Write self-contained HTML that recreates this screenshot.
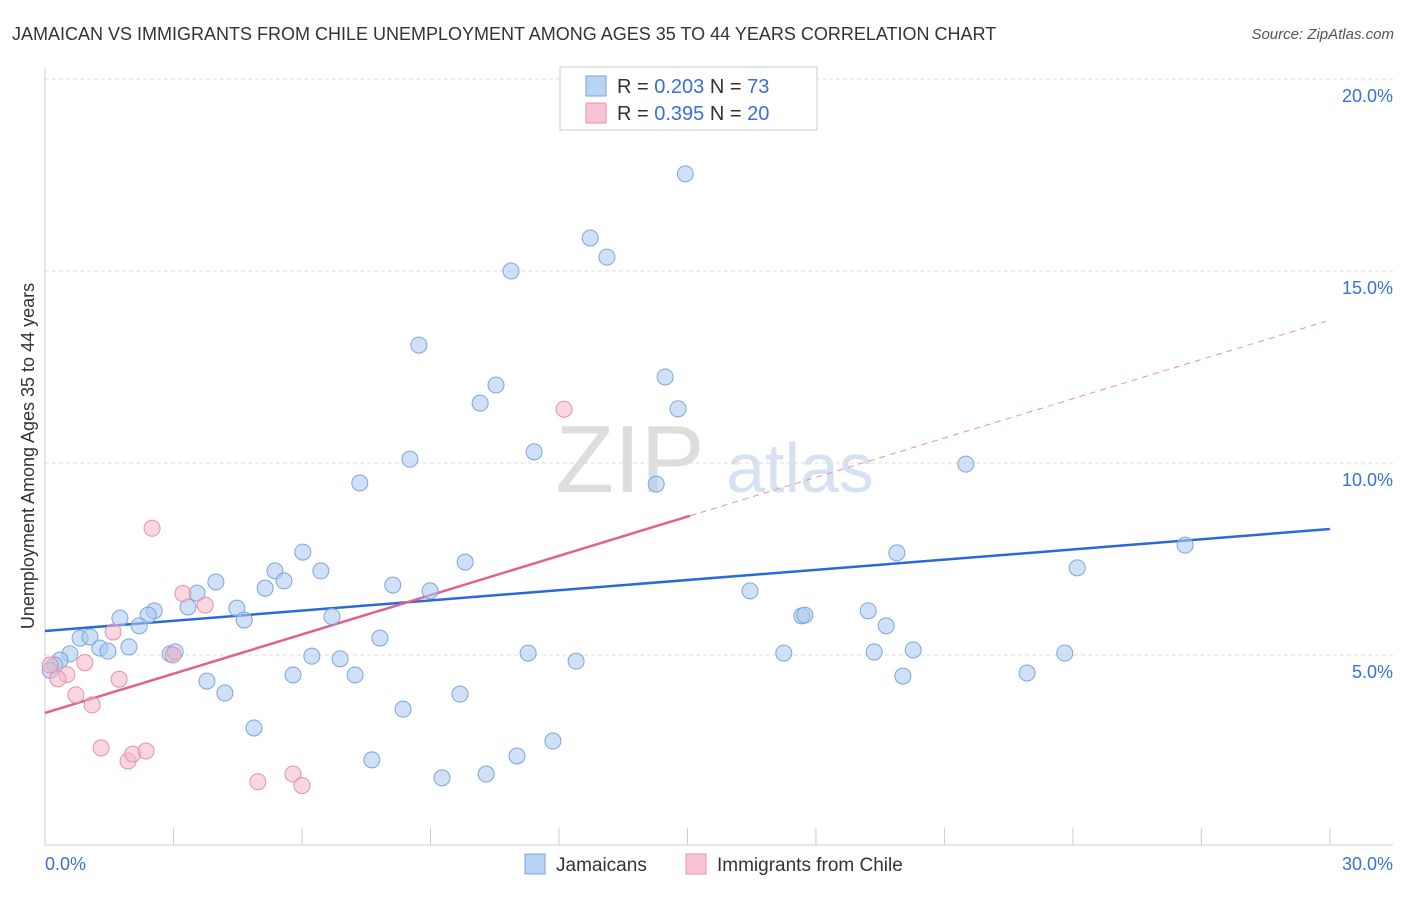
<!DOCTYPE html>
<html><head><meta charset="utf-8"><style>
body{margin:0;background:#fff;font-family:"Liberation Sans",sans-serif;}
svg text{font-family:"Liberation Sans",sans-serif;}
</style></head><body>
<svg id="chart" width="1406" height="892">
<text x="12" y="40" font-size="18" fill="#333">JAMAICAN VS IMMIGRANTS FROM CHILE UNEMPLOYMENT AMONG AGES 35 TO 44 YEARS CORRELATION CHART</text>
<text x="1394" y="39" font-size="15" fill="#555" text-anchor="end" font-style="italic">Source: ZipAtlas.com</text>
<text x="630" y="492" font-size="96" fill="#ddd" font-family="Liberation Serif" text-anchor="middle">ZIP</text>
<text x="800" y="492" font-size="70" fill="#d6e2f2" text-anchor="middle">atlas</text>
<g id="grid"></g><g id="axes"></g><g id="lines"></g><g id="points"></g>
<text transform="translate(34,456) rotate(-90)" font-size="18" fill="#333" text-anchor="middle">Unemployment Among Ages 35 to 44 years</text>
<text x="45" y="870" font-size="18" fill="#3a6fd8">0.0%</text>
<text x="1393" y="870" font-size="18" fill="#3a6fd8" text-anchor="end">30.0%</text>
<g>
<rect x="560" y="67" width="257" height="63" fill="#fff" stroke="#ccc"/>
<rect x="586" y="76" width="20" height="20" fill="#b9d3f5" stroke="#7aa5e0"/>
<rect x="586" y="103" width="20" height="20" fill="#f9c5d4" stroke="#e890aa"/>
<text x="617" y="93" font-size="20" fill="#333">R = <tspan fill="#3a6fd8">0.203</tspan>   N = <tspan fill="#3a6fd8">73</tspan></text>
<text x="617" y="120" font-size="20" fill="#333">R = <tspan fill="#3a6fd8">0.395</tspan>   N = <tspan fill="#3a6fd8">20</tspan></text>
</g>
<g><rect x="525" y="854" width="20" height="20" fill="#b9d3f5" stroke="#7aa5e0"/><text x="556" y="871" font-size="19" fill="#333">Jamaicans</text></g>
<g><rect x="686" y="854" width="20" height="20" fill="#f9c5d4" stroke="#e890aa"/><text x="717" y="871" font-size="19" fill="#333">Immigrants from Chile</text></g>
</svg>
<script>
const yTicks=[5,10,15,20];
const yTickLabels=["5.0%","10.0%","15.0%","20.0%"];
const xTicks=[0,3,6,9,12,15,18,21,24,27,30];
const blueX=[14.95,13.12,10.88,12.73,8.73,10.53,10.16,14.48,14.78,11.42,8.52,7.35,14.27,21.5,9.81,6.02,5.37,6.44,26.62,19.89,24.1,3.99,5.14,5.58,8.12,8.99,16.46,3.55,4.48,2.55,3.34,6.7,2.41,4.65,1.75,2.2,17.67,17.74,19.22,19.64,7.82,0.82,1.05,1.28,1.47,1.96,2.92,3.04,6.23,6.89,11.28,17.25,19.36,20.27,23.81,0.58,0.35,12.4,0.23,5.79,7.24,3.78,4.2,20.03,22.93,9.69,8.36,4.88,11.86,11.02,7.63,9.27,10.3,0.12];
const blueY=[17.53,15.36,15.0,15.86,13.07,12.03,11.56,12.24,11.41,10.29,10.1,9.48,9.45,9.97,7.42,7.68,7.19,7.19,7.86,7.66,7.27,6.9,6.74,6.93,6.82,6.67,6.67,6.61,6.22,6.15,6.25,6.0,6.04,5.91,5.96,5.76,6.02,6.04,6.15,5.76,5.44,5.44,5.47,5.18,5.1,5.21,5.03,5.08,4.97,4.9,5.05,5.05,5.08,5.13,5.05,5.03,4.87,4.84,4.74,4.48,4.48,4.32,4.01,4.45,4.53,3.98,3.59,3.1,2.76,2.37,2.27,1.8,1.9,4.6];
const pinkX=[12.12,2.5,3.22,3.74,1.59,0.93,0.51,0.3,0.12,1.73,0.72,1.1,1.31,1.94,2.05,2.36,4.97,5.79,6.0,2.99];
const pinkY=[11.4,8.3,6.6,6.3,5.6,4.8,4.49,4.38,4.74,4.37,3.96,3.7,2.58,2.24,2.42,2.5,1.7,1.9,1.6,5.0];
const blueFit=[5.625,8.28];
const pinkFit=[3.49,0.341];
const X=v=>45+v*42.83, Y=v=>847-v*38.4;
const NS="http://www.w3.org/2000/svg";
function mk(t,a,p){const e=document.createElementNS(NS,t);for(const k in a)e.setAttribute(k,a[k]);document.getElementById(p).appendChild(e);return e;}
yTicks.forEach((t,i)=>{
 const l=mk('line',{x1:45,x2:1393,y1:Y(t),y2:Y(t),stroke:'#ddd','stroke-dasharray':'4,3'},'grid');
 
 
 const tx=mk('text',{x:1393,y:Y(t)+23,'font-size':18,fill:'#3a6fd8','text-anchor':'end'},'grid');
 tx.textContent=yTickLabels[i];
 
 
});
const ya=mk('line',{x1:45,x2:45,y1:67,y2:845,stroke:'#ccc'},'axes');


const xa=mk('line',{x1:45,x2:1393,y1:845,y2:845,stroke:'#ccc'},'axes');


xTicks.forEach(t=>{const l=mk('line',{x1:X(t),x2:X(t),y1:828,y2:845,stroke:'#ccc'},'axes');
 
 });
const bl=mk('line',{x1:X(0),y1:Y(blueFit[0]),x2:X(30),y2:Y(blueFit[1]),stroke:'#2a6ad6','stroke-width':2.5},'lines');


const pe=15.06;
const ps=mk('line',{x1:X(0),y1:Y(pinkFit[0]),x2:X(pe),y2:Y(pinkFit[0]+pinkFit[1]*pe),stroke:'#e0628c','stroke-width':2.5},'lines');


const pd=mk('line',{x1:X(pe),y1:Y(pinkFit[0]+pinkFit[1]*pe),x2:X(29.9),y2:Y(pinkFit[0]+pinkFit[1]*29.9),stroke:'#e890aa','stroke-width':1,'stroke-dasharray':'6,5'},'lines');


blueX.forEach((x,i)=>{const c=mk('circle',{cx:X(x),cy:Y(blueY[i]),r:8,fill:'rgba(169,200,240,0.55)',stroke:'#7aa5e0','stroke-width':1},'points');
 
 });
pinkX.forEach((x,i)=>{const c=mk('circle',{cx:X(x),cy:Y(pinkY[i]),r:8,fill:'rgba(245,181,200,0.55)',stroke:'#e890aa','stroke-width':1},'points');
 
 });
</script>
</body></html>
